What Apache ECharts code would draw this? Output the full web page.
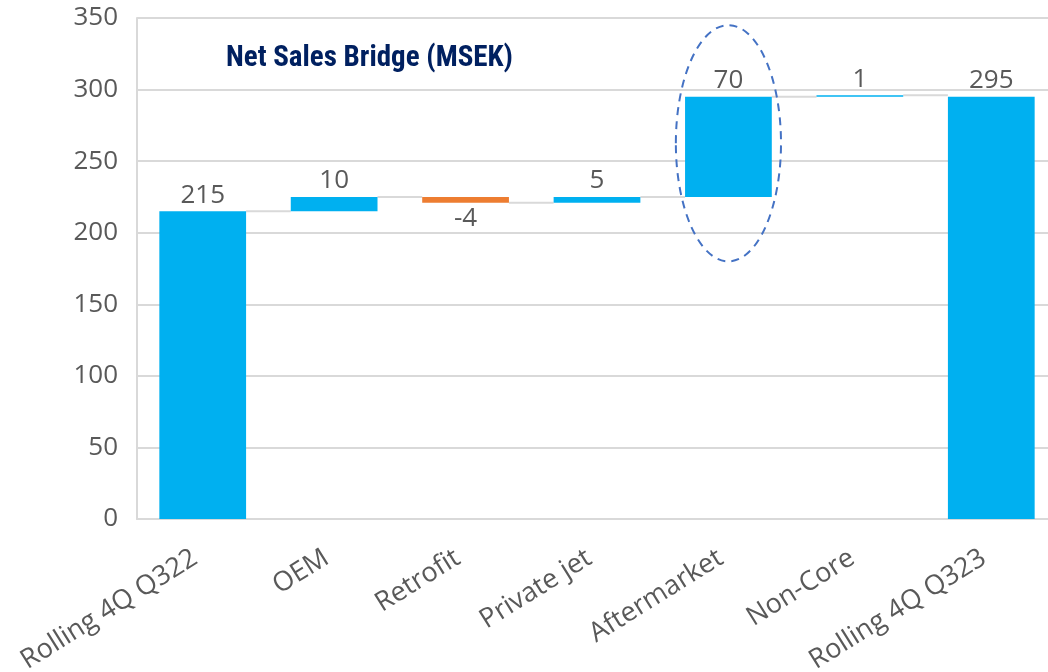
<!DOCTYPE html>
<html>
<head>
<meta charset="utf-8">
<script src="https://cdn.jsdelivr.net/npm/echarts@6/dist/echarts.min.js"></script>
<style>html,body{margin:0;padding:0;background:#fff;overflow:hidden}#main{width:1057px;height:672px}</style>
</head>
<body>
<div id="main"></div>
<script>
var dom = document.getElementById("main");
var myChart = echarts.init(dom);

var categories = ['Rolling 4Q Q322', 'OEM', 'Retrofit', 'Private jet', 'Aftermarket', 'Non-Core', 'Rolling 4Q Q323'];
// label shown on each bar
var labels = [215, 10, -4, 5, 70, 1, 295];
// where each bar starts and ends
var barStart = [0, 215, 225, 221, 225, 295, 0];
var barEnd = [215, 225, 221, 225, 295, 296, 295];

var BLUE = '#00B0F0', ORANGE = '#ED7D31', TXT = '#595959', GRID = '#D9D9D9';
var FONT = '"Open Sans", "Segoe UI", sans-serif';
var BARW = 0.66;

var baseData = barStart.map(function (s, i) { return Math.min(s, barEnd[i]); });
var sizeData = barStart.map(function (s, i) {
    var neg = barEnd[i] < s;
    return {
        value: Math.abs(barEnd[i] - s),
        itemStyle: { color: neg ? ORANGE : BLUE },
        label: { position: neg ? 'bottom' : 'top' }
    };
});
var connData = [];
for (var i = 0; i < categories.length - 1; i++) connData.push([i, barEnd[i]]);

option = {
    animation: false,
    title: {
        text: 'Net Sales Bridge (MSEK)',
        left: 221,
        top: 39,
        textStyle: {
            color: '#002060',
            fontWeight: 'bold',
            fontSize: 29,
            fontFamily: '"Roboto Condensed", "Liberation Sans Narrow", "DejaVu Sans Condensed", Roboto, sans-serif'
        }
    },
    grid: { left: 137, top: 18, bottom: 153, right: 0, outerBoundsMode: 'none', containLabel: false },
    xAxis: {
        type: 'category',
        data: categories,
        axisTick: { show: false },
        axisLine: { lineStyle: { color: GRID, width: 2 } },
        axisLabel: {
            rotate: 32, color: TXT, fontSize: 27, fontFamily: FONT,
            margin: 32, padding: [0, 9, 0, 0], interval: 0
        }
    },
    yAxis: {
        type: 'value',
        min: 0, max: 350, interval: 50,
        axisLine: { show: true, lineStyle: { color: GRID, width: 2 } },
        axisTick: { show: false },
        splitLine: { lineStyle: { color: GRID, width: 2 } },
        axisLabel: { color: TXT, fontSize: 26, fontFamily: FONT, margin: 19 }
    },
    series: [{
        type: 'bar',
        stack: 'bridge',
        silent: true,
        barWidth: (BARW * 100) + '%',
        itemStyle: { color: 'transparent' },
        data: baseData
    }, {
        type: 'bar',
        stack: 'bridge',
        barWidth: (BARW * 100) + '%',
        label: {
            show: true, color: TXT, fontSize: 26, fontFamily: FONT, distance: 3,
            formatter: function (p) { return labels[p.dataIndex]; }
        },
        data: sizeData,
        z: 3
    }, {
        type: 'custom',
        silent: true,
        z: 1,
        renderItem: function (params, api) {
            var idx = api.value(0), lvl = api.value(1);
            var a = api.coord([idx, lvl]), b = api.coord([idx + 1, lvl]);
            var half = api.size([1, 0])[0] * BARW / 2;
            return {
                type: 'line',
                shape: { x1: a[0] + half, y1: a[1], x2: b[0] - half, y2: b[1] },
                style: { stroke: GRID, lineWidth: 2 }
            };
        },
        data: connData
    }, {
        type: 'custom',
        silent: true,
        z: 5,
        renderItem: function (params, api) {
            var top = api.coord([4, 345]), bot = api.coord([4, 180]);
            var rx = api.size([1, 0])[0] * 0.4;
            return {
                type: 'ellipse',
                shape: { cx: top[0], cy: (top[1] + bot[1]) / 2, rx: rx, ry: (bot[1] - top[1]) / 2 },
                style: { fill: null, stroke: '#4472C4', lineWidth: 2, lineDash: [8, 6] }
            };
        },
        data: [[4, 262]]
    }]
};

if (option && typeof option === "object") {
    myChart.setOption(option, true);
}
</script>
</body>
</html>
